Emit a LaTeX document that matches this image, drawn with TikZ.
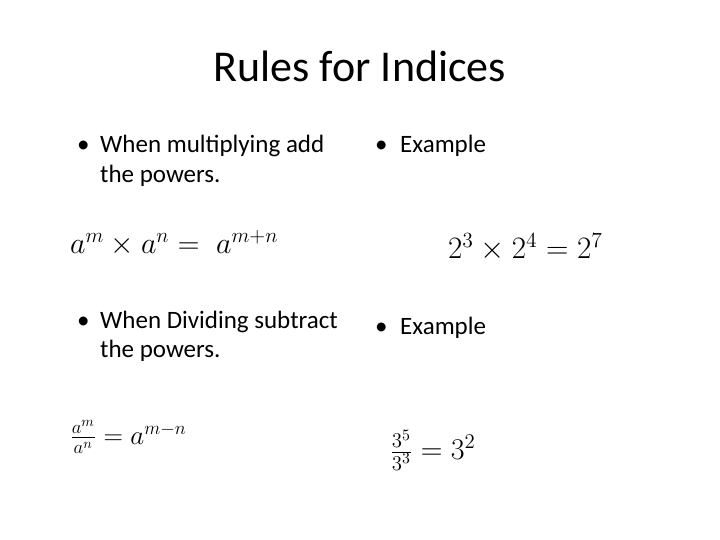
\documentclass[tikz,border=0pt]{standalone}
\usepackage{fontspec}
\usepackage{graphicx}
\setmainfont{Carlito}
\begin{document}
\begin{tikzpicture}[x=1pt,y=-1pt,
  txt/.style={anchor=base west,inner sep=0pt,font=\fontsize{25}{29}\selectfont},
  mth/.style={anchor=west,inner sep=0pt,font=\fontsize{22}{26}\selectfont}]
\useasboundingbox[fill=white] (0,0) rectangle (720,540);
\node[anchor=base,inner sep=0pt,font=\fontsize{44}{50}\selectfont] (title) at (360,82) {Rules for Indices};
\node[txt] (b1) at (77,153) {•};
\node[txt] (t1) at (100,153) {When multiplying add};
\node[txt] (t1b) at (100,183) {the powers.};
\node[mth] (f1) at (70,243) {\scalebox{1.45}{$a^m\times a^n =\; a^{m+n}$}};
\node[txt] (b2) at (375,153) {•};
\node[txt] (e1) at (400,153) {Example};
\node[mth] (f2) at (448,247) {\scalebox{1.5}{$2^3\times 2^4 = 2^7$}};
\node[txt] (b3) at (77,328) {•};
\node[txt] (t2) at (100,328) {When Dividing subtract};
\node[txt] (t2b) at (100,357) {the powers.};
\node[mth] (f3) at (70,437) {\scalebox{1.3}{$\frac{a^m}{a^n} = a^{m-n}$}};
\node[txt] (b4) at (375,334) {•};
\node[txt] (e2) at (400,334) {Example};
\node[mth] (f4) at (390,450) {\scalebox{1.45}{$\frac{3^5}{3^3} = 3^2$}};
\end{tikzpicture}
\end{document}
